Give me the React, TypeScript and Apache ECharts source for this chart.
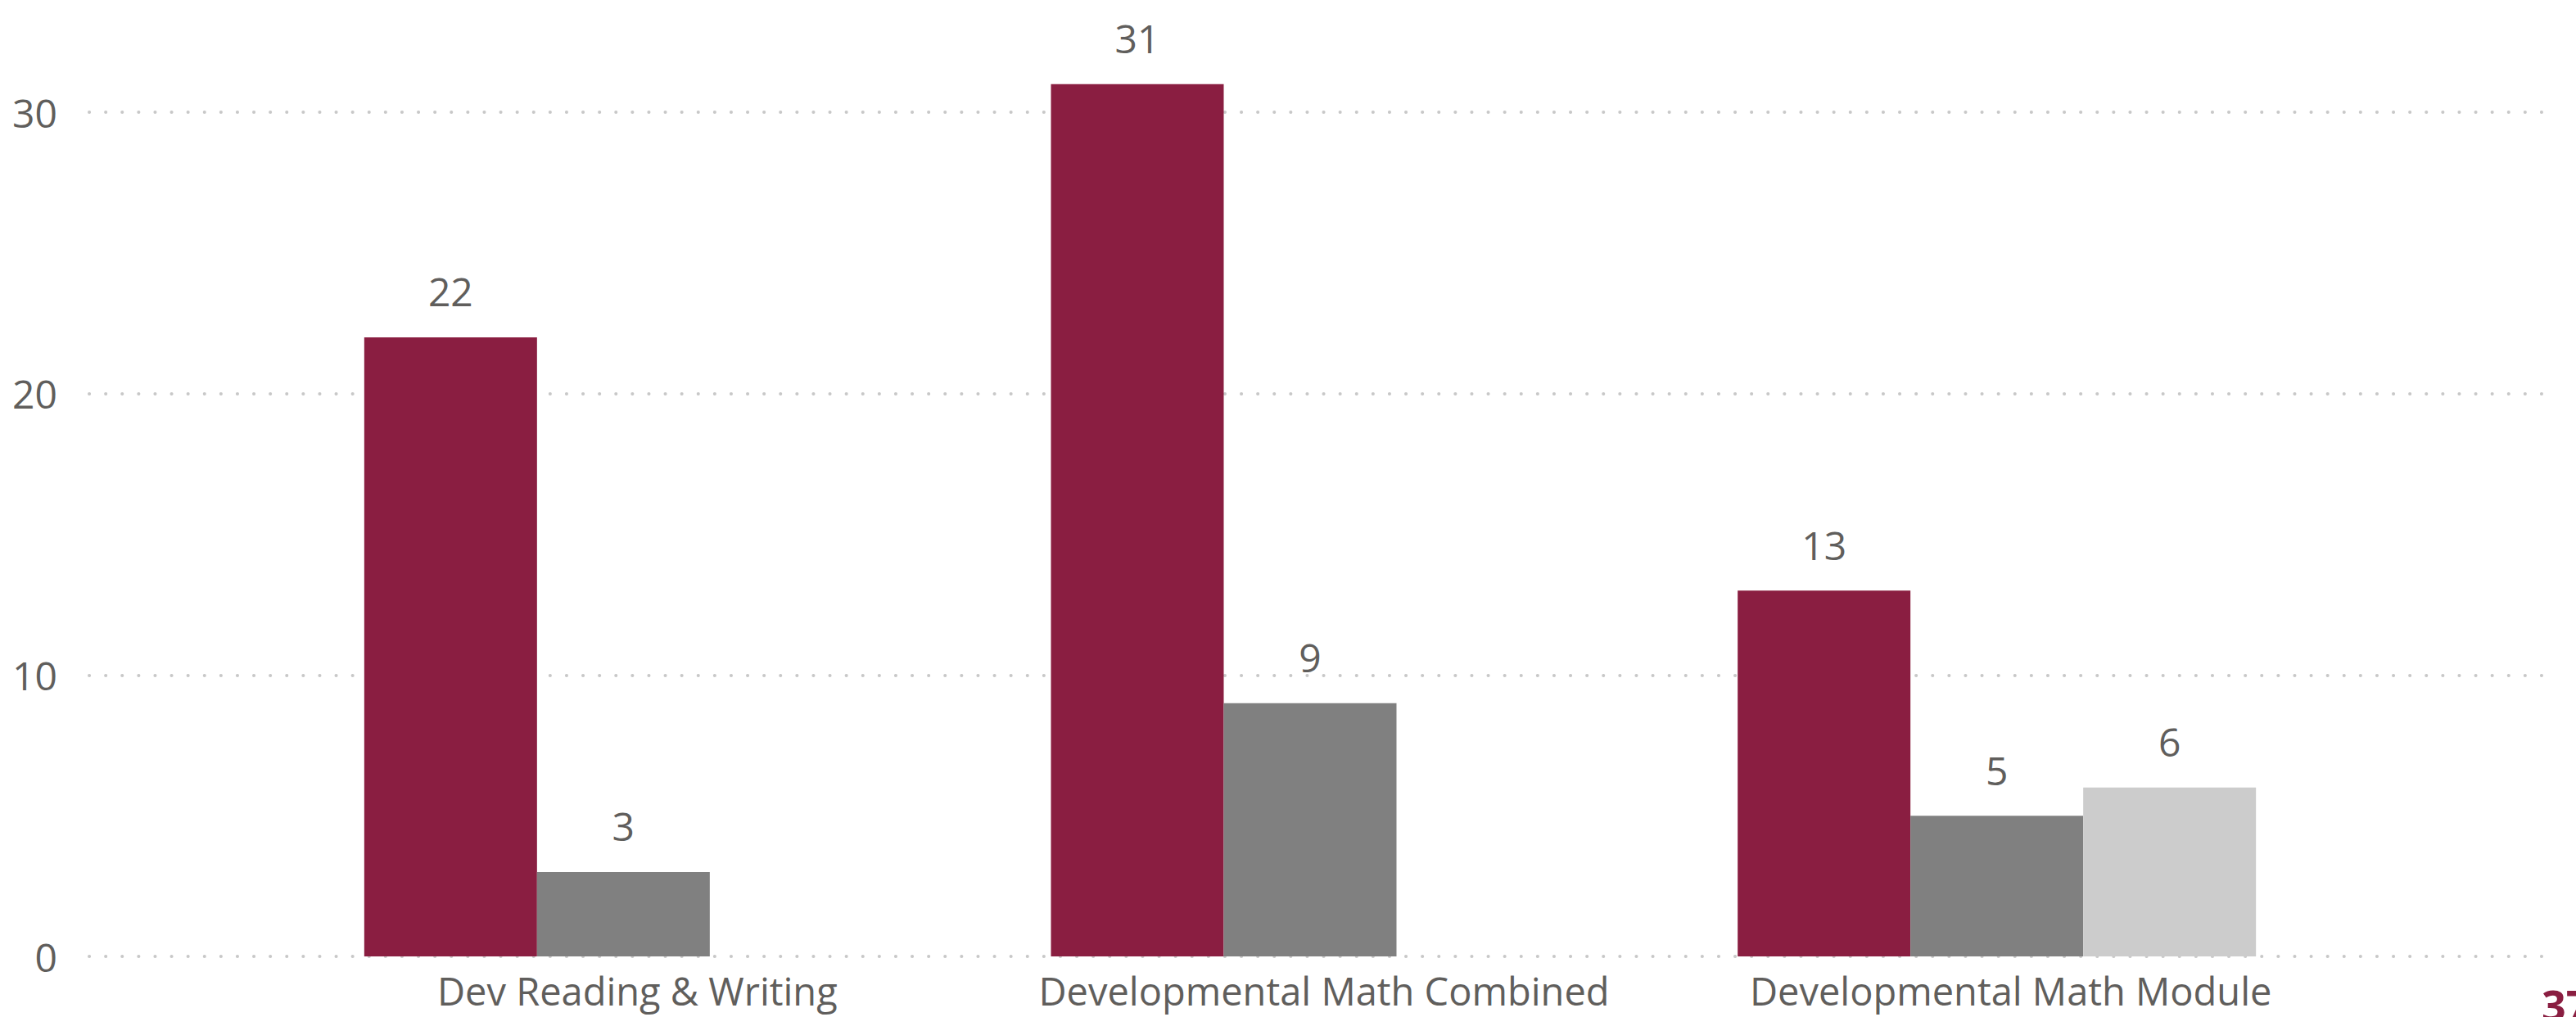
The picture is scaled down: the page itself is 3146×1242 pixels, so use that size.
import React, { useEffect, useRef } from "react";
import * as echarts from "echarts";

const categories = ["Dev Reading & Writing", "Developmental Math Combined", "Developmental Math Module"];
const seriesNames = ["Series 1", "Series 2", "Series 3"];
const series1 = [22, 31, 13];
const series2 = [3, 9, 5];
const series3: (number | null)[] = [null, null, 6];
const colors = ["#8A1E41", "#808080", "#CCCCCC"];
const yTicks = { min: 0, max: 30, interval: 10 };
const pageNumber = "37";

const FONT = "'Segoe UI', 'Open Sans', sans-serif";
const TEXT = "#605E5C";

export default function App() {
  const ref = useRef<HTMLDivElement>(null);
  useEffect(() => {
    if (!ref.current) return;
    const chart = echarts.init(ref.current, null, { renderer: "svg" });
    const label = {
      show: true,
      position: "top",
      distance: 32,
      color: TEXT,
      fontSize: 48,
      fontFamily: FONT,
    };
    const data = [series1, series2, series3];
    chart.setOption({
      animation: false,
      backgroundColor: "#ffffff",
      grid: [
        { left: 109, right: 34, top: 137, bottom: 74 },
        { left: 342, right: 288, top: 137, bottom: 74 },
      ],
      xAxis: [
        { type: "value", gridIndex: 0, show: false, min: 0, max: 1 },
        {
          type: "category",
          gridIndex: 1,
          data: categories,
          axisLine: { show: false },
          axisTick: { show: false },
          axisLabel: {
            color: TEXT,
            fontSize: 47,
            fontFamily: FONT,
            margin: 18,
            interval: 0,
            padding: [0, 0, 0, 34],
          },
        },
      ],
      yAxis: [
        {
          type: "value",
          gridIndex: 0,
          min: yTicks.min,
          max: yTicks.max,
          interval: yTicks.interval,
          axisLine: { show: false },
          axisTick: { show: false },
          axisLabel: { color: TEXT, fontSize: 48, fontFamily: FONT, margin: 39 },
          splitLine: {
            show: true,
            lineStyle: { color: "#C8C8C8", width: 4, type: [0.1, 20], cap: "round" },
          },
        },
        {
          type: "value",
          gridIndex: 1,
          min: yTicks.min,
          max: yTicks.max,
          interval: yTicks.interval,
          show: false,
          splitLine: { show: false },
        },
      ],
      series: seriesNames.map((name, i) => ({
        name,
        type: "bar",
        xAxisIndex: 1,
        yAxisIndex: 1,
        data: data[i],
        barWidth: 211,
        barGap: "0%",
        clip: false,
        itemStyle: { color: colors[i] },
        label,
      })),
      graphic: [
        {
          type: "text",
          left: 3104,
          top: 1200,
          style: {
            text: pageNumber,
            fill: "#8A1E41",
            fontSize: 52,
            fontWeight: "bold",
            fontFamily: FONT,
          },
        },
      ],
    });
    return () => chart.dispose();
  }, []);
  return (
    <div
      ref={ref}
      style={{ position: "fixed", left: 0, top: 0, width: 3146, height: 1242, background: "#fff" }}
    />
  );
}
